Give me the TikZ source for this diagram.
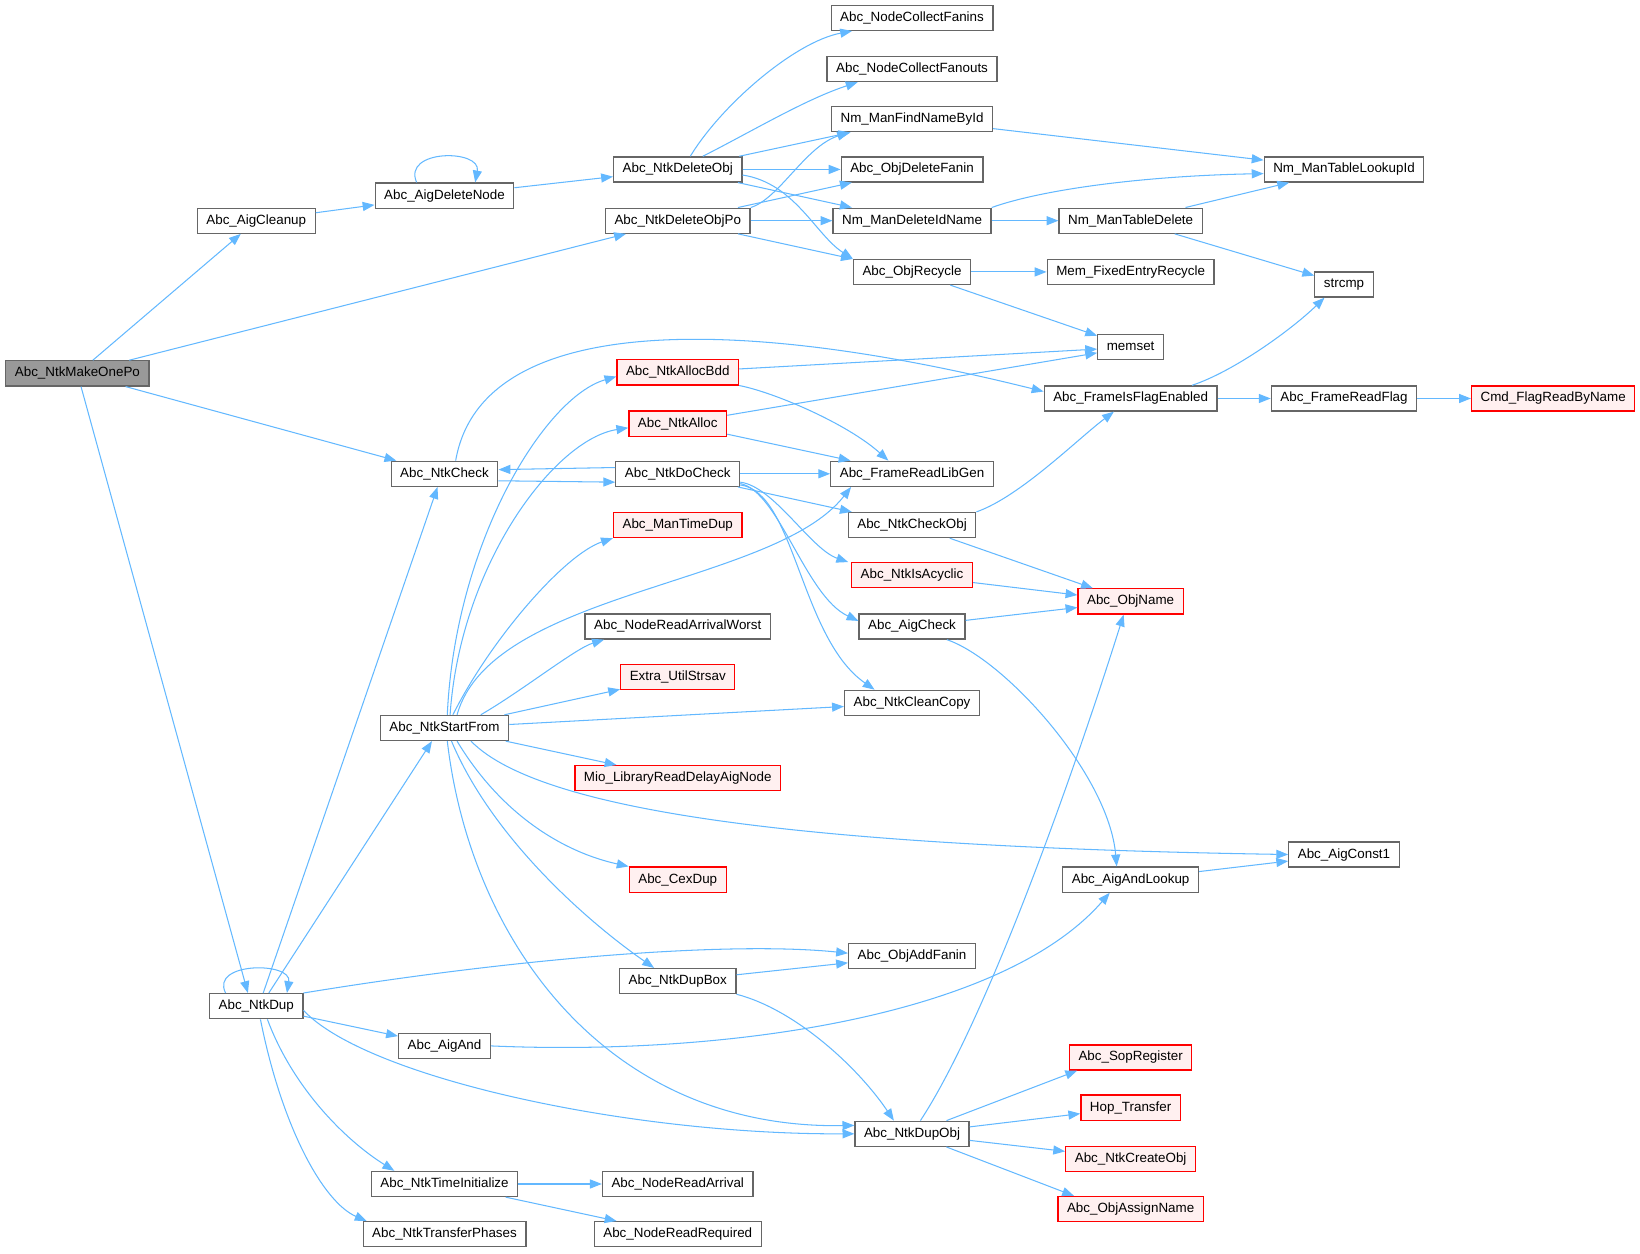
\documentclass[tikz,border=0pt]{standalone}
\usepackage{fontspec}
\setmainfont{Liberation Sans}
\usetikzlibrary{arrows.meta}
\definecolor{edgeblue}{HTML}{63B8FF}
\definecolor{boxgray}{HTML}{666666}
\definecolor{redfill}{HTML}{FFF0F0}
\definecolor{rootfill}{HTML}{999999}
\begin{document}
\begin{tikzpicture}[x=0.75pt,y=-0.75pt]
            \tikzstyle{fn}=[draw=boxgray, fill=white, line width=0.9pt, minimum height=18pt, inner xsep=6.5pt, inner ysep=0pt, text height=7pt, text depth=2pt, font=\fontsize{9.6}{11}\selectfont]
            \tikzstyle{fnred}=[fn, draw=red, fill=redfill]
            \tikzstyle{fnroot}=[fn, fill=rootfill]
            \tikzstyle{call}=[draw=edgeblue, line width=0.75pt, -{Triangle[length=8.5pt,width=6.5pt]}]
            \useasboundingbox (0,0) rectangle (1568,1198);
            % functions
            \node [fnroot] (mk) at (74,357) {Abc\_NtkMakeOnePo};
            \node [fn] (cln) at (245,211) {Abc\_AigCleanup};
            \node [fn] (adn) at (425,187) {Abc\_AigDeleteNode};
            \node [fn] (ndo) at (648,162) {Abc\_NtkDeleteObj};
            \node [fn] (ndp) at (648,211) {Abc\_NtkDeleteObjPo};
            \node [fn] (ncfi) at (872,17) {Abc\_NodeCollectFanins};
            \node [fn] (ncfo) at (872,66) {Abc\_NodeCollectFanouts};
            \node [fn] (nfn) at (872,114) {Nm\_ManFindNameById};
            \node [fn] (odf) at (872,162) {Abc\_ObjDeleteFanin};
            \node [fn] (ndi) at (872,211) {Nm\_ManDeleteIdName};
            \node [fn] (orc) at (872,260) {Abc\_ObjRecycle};
            \node [fn] (ntl) at (1285,162) {Nm\_ManTableLookupId};
            \node [fn] (ntd) at (1081,211) {Nm\_ManTableDelete};
            \node [fn] (mfe) at (1081,260) {Mem\_FixedEntryRecycle};
            \node [fn] (scmp) at (1285,272) {strcmp};
            \node [fn] (mset) at (1081,332) {memset};
            \node [fn] (fif) at (1081,381) {Abc\_FrameIsFlagEnabled};
            \node [fn] (frf) at (1285,381) {Abc\_FrameReadFlag};
            \node [fnred] (cfr) at (1485,381) {Cmd\_FlagReadByName};
            \node [fnred] (nab) at (648,356) {Abc\_NtkAllocBdd};
            \node [fnred] (nal) at (648,405) {Abc\_NtkAlloc};
            \node [fn] (chk) at (425,453) {Abc\_NtkCheck};
            \node [fn] (dchk) at (648,453) {Abc\_NtkDoCheck};
            \node [fn] (flg) at (872,453) {Abc\_FrameReadLibGen};
            \node [fn] (cko) at (872,502) {Abc\_NtkCheckObj};
            \node [fnred] (mtd) at (648,502) {Abc\_ManTimeDup};
            \node [fnred] (acy) at (872,550) {Abc\_NtkIsAcyclic};
            \node [fnred] (onm) at (1081,575) {Abc\_ObjName};
            \node [fn] (ack) at (872,599) {Abc\_AigCheck};
            \node [fn] (raw) at (648,599) {Abc\_NodeReadArrivalWorst};
            \node [fnred] (eus) at (648,647) {Extra\_UtilStrsav};
            \node [fn] (ncc) at (872,672) {Abc\_NtkCleanCopy};
            \node [fn] (nsf) at (425,696) {Abc\_NtkStartFrom};
            \node [fnred] (mio) at (648,744) {Mio\_LibraryReadDelayAigNode};
            \node [fn] (ac1) at (1285,817) {Abc\_AigConst1};
            \node [fn] (aal) at (1081,841) {Abc\_AigAndLookup};
            \node [fnred] (cex) at (648,841) {Abc\_CexDup};
            \node [fn] (oaf) at (872,914) {Abc\_ObjAddFanin};
            \node [fn] (ndb) at (648,938) {Abc\_NtkDupBox};
            \node [fn] (dup) at (245,962) {Abc\_NtkDup};
            \node [fn] (aand) at (425,1000) {Abc\_AigAnd};
            \node [fnred] (sop) at (1081,1011) {Abc\_SopRegister};
            \node [fnred] (hop) at (1081,1059) {Hop\_Transfer};
            \node [fn] (dob) at (872,1084) {Abc\_NtkDupObj};
            \node [fnred] (nco) at (1081,1108) {Abc\_NtkCreateObj};
            \node [fnred] (oan) at (1081,1156) {Abc\_ObjAssignName};
            \node [fn] (nti) at (425,1132) {Abc\_NtkTimeInitialize};
            \node [fn] (nra) at (648,1132) {Abc\_NodeReadArrival};
            \node [fn] (ntp) at (425,1180) {Abc\_NtkTransferPhases};
            \node [fn] (nrr) at (648,1180) {Abc\_NodeReadRequired};
            % calls of Abc_NtkMakeOnePo and the delete branch
            \draw [call] (mk) -- (cln);
            \draw [call] (mk) -- (ndp);
            \draw [call] (mk) -- (chk);
            \draw [call] (mk) -- ([xshift=-6pt]dup.north);
            \draw [call] (cln) -- (adn);
            \draw [call] ([xshift=-20pt]adn.north) .. controls +(-14,-32) and +(6,-32) .. ([xshift=22pt]adn.north);
            \draw [call] (adn) -- (ndo);
            \draw [call] ([xshift=9pt]ndo.north) .. controls (690,100) and (760,40) .. ([xshift=-43pt]ncfi.south);
            \draw [call] ([xshift=18pt]ndo.north) .. controls (720,125) and (770,95) .. ([xshift=-39pt]ncfo.south);
            \draw [call] (ndo) -- (nfn);
            \draw [call] (ndo) -- (odf);
            \draw [call] (ndo) -- (ndi);
            \draw [call] ([yshift=-4pt]ndo.east) .. controls (760,175) and (780,225) .. (orc.north west);
            \draw [call] (ndp.north east) .. controls (745,190) and (770,140) .. ([xshift=13pt]nfn.south west);
            \draw [call] (ndp) -- (odf);
            \draw [call] (ndp) -- (ndi);
            \draw [call] (ndp) -- (orc);
            \draw [call] (nfn) -- (ntl);
            \draw [call] (ndi.north east) .. controls (1000,180) and (1100,168) .. ([yshift=-3pt]ntl.west);
            \draw [call] (ndi) -- (ntd);
            \draw [call] (ntd) -- (ntl);
            \draw [call] (ntd) -- (scmp);
            \draw [call] (orc) -- (mfe);
            \draw [call] (orc) -- (mset);
            % Abc_NtkCheck and Abc_NtkDoCheck
            \draw [call] ([xshift=8pt]chk.north) .. controls (460,300) and (700,300) .. ([yshift=5pt]fif.west);
            \draw [call] ([yshift=4.5pt]dchk.west) -- ([yshift=3pt]chk.east);
            \draw [call] ([yshift=-5pt]chk.east) -- ([yshift=-6pt]dchk.west);
            \draw [call] ([xshift=44pt]fif.north) .. controls (1180,355) and (1235,315) .. ([xshift=-14pt]scmp.south);
            \draw [call] (fif) -- (frf);
            \draw [call] (frf) -- (cfr);
            \draw [call] (nab) -- (mset);
            \draw [call] (nab.south east) .. controls (740,375) and (810,405) .. ([xshift=-17pt]flg.north);
            \draw [call] (nal) -- (mset);
            \draw [call] (nal) -- (flg);
            \draw [call] (dchk) -- (flg);
            \draw [call] (dchk) -- (cko);
            \draw [call] ([yshift=-6pt]dchk.east) .. controls (740,465) and (775,525) .. ([xshift=-2pt]acy.north west);
            \draw [call] ([yshift=-7pt]dchk.east) .. controls (745,470) and (770,570) .. ([yshift=4pt]ack.west);
            \draw [call] ([yshift=-8pt]dchk.east) .. controls (760,470) and (765,610) .. ([xshift=22pt]ncc.north west);
            \draw [call] (cko.north east) .. controls (975,475) and (1030,420) .. ([xshift=-12pt]fif.south);
            \draw [call] (cko) -- (onm);
            \draw [call] (acy) -- (onm);
            \draw [call] (ack) -- (onm);
            \draw [call] ([xshift=25pt]ack.south) .. controls (960,630) and (1060,740) .. ([xshift=-10pt]aal.north);
            % Abc_NtkStartFrom
            \draw [call] ([xshift=2pt]nsf.north) .. controls (435,520) and (520,380) .. ([yshift=-3pt]nab.west);
            \draw [call] ([xshift=4pt]nsf.north) .. controls (440,540) and (530,420) .. ([yshift=-3pt]nal.west);
            \draw [call] ([xshift=6pt]nsf.north) .. controls (470,610) and (540,530) .. (mtd.south west);
            \draw [call] ([xshift=9pt]nsf.north) .. controls (470,565) and (740,560) .. ([xshift=15pt]flg.south west);
            \draw [call] ([xshift=26pt]nsf.north) .. controls (500,660) and (550,620) .. ([xshift=14pt]raw.south west);
            \draw [call] (nsf) -- (eus);
            \draw [call] (nsf) -- (ncc);
            \draw [call] (nsf) -- (mio);
            \draw [call] ([xshift=19pt]nsf.south) .. controls (520,780) and (800,810) .. (ac1.west);
            \draw [call] ([xshift=9pt]nsf.south) .. controls (480,780) and (540,815) .. (cex.north west);
            \draw [call] ([xshift=5pt]nsf.south) .. controls (470,800) and (560,880) .. ([xshift=-17pt]ndb.north);
            \draw [call] ([xshift=2pt]nsf.south) .. controls (450,900) and (580,1080) .. ([yshift=6pt]dob.west);
            \draw [call] (aal) -- (ac1);
            \draw [call] (ndb) -- (oaf);
            \draw [call] (ndb.south east) .. controls (760,965) and (820,1020) .. ([xshift=-13pt]dob.north);
            % Abc_NtkDup
            \draw [call] ([xshift=-22pt]dup.north) .. controls +(-15,-30) and +(5,-30) .. ([xshift=22pt]dup.north);
            \draw [call] ([xshift=5pt]dup.north) -- ([xshift=-5pt]chk.south);
            \draw [call] ([xshift=9pt]dup.north) -- ([xshift=-9pt]nsf.south);
            \draw [call] (dup.north east) .. controls (500,915) and (700,900) .. ([yshift=2pt]oaf.west);
            \draw [call] (dup) -- (aand);
            \draw [call] ([yshift=-3pt]dup.east) .. controls (350,1030) and (600,1085) .. (dob.west);
            \draw [call] ([xshift=8pt]dup.south) .. controls (280,1040) and (330,1090) .. ([xshift=-36pt]nti.north);
            \draw [call] ([xshift=3pt]dup.south) .. controls (270,1080) and (310,1150) .. ([xshift=3pt]ntp.north west);
            \draw [call] (aand.east) .. controls (700,1010) and (960,970) .. ([xshift=-15pt]aal.south);
            % Abc_NtkDupObj
            \draw [call] ([xshift=6pt]dob.north) .. controls (940,980) and (1020,760) .. ([xshift=-5pt]onm.south);
            \draw [call] (dob) -- ([xshift=6pt]sop.south west);
            \draw [call] (dob) -- (hop);
            \draw [call] (dob) -- (nco);
            \draw [call] (dob) -- ([xshift=12pt]oan.north west);
            \draw [call] (nti) -- (nra);
            \draw [call] (nti) -- (nrr);
\end{tikzpicture}
\end{document}
